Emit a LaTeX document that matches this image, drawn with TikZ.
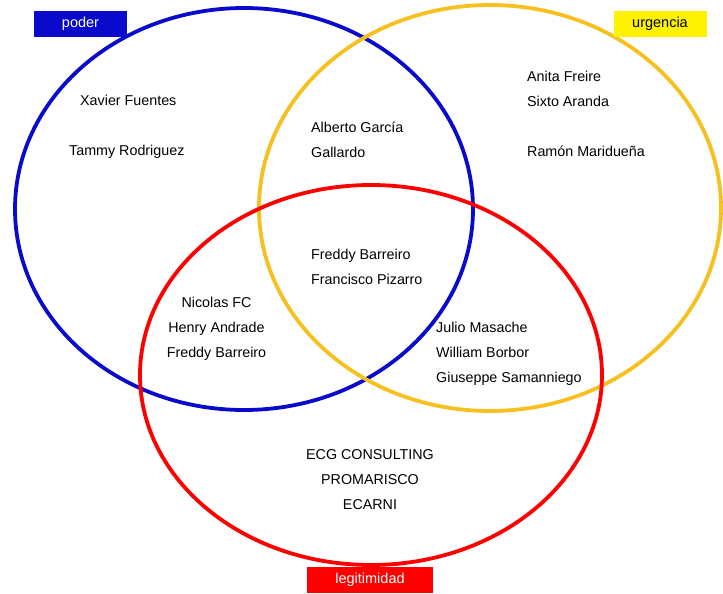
\documentclass[tikz,border=0pt]{standalone}
\usepackage{fontspec}
\setmainfont{Liberation Sans}
\definecolor{podercol}{RGB}{10,10,204}
\definecolor{urgcol}{RGB}{246,192,30}
\definecolor{legcol}{RGB}{255,0,0}

\begin{document}
\begin{tikzpicture}[x=1pt, y=-1pt]
  \tikzstyle{circulo} = [line width=3.8pt]
  \tikzstyle{titulo} = [rectangle, minimum width=93pt, minimum height=26pt, inner sep=0pt,
                        font=\fontsize{14.5}{16}\selectfont]
  \tikzstyle{nombres} = [inner sep=0pt, font=\fontsize{14.3}{25}\selectfont]

\useasboundingbox (0,0) rectangle (723,594);

% conjuntos
\draw[circulo, podercol] (244,209) ellipse [x radius=229pt, y radius=201pt];
\draw[circulo, urgcol] (490,208) ellipse [x radius=231pt, y radius=203pt];
\draw[circulo, legcol] (371,375) ellipse [x radius=231pt, y radius=190pt];

% etiquetas
\node[titulo, fill=podercol, text=white] (poder) at (80.5,24) {poder};
\node[titulo, fill=yellow, text=black] (urgencia) at (660,24) {urgencia};
\node[titulo, fill=legcol, text=white, minimum width=126pt] (legitimidad) at (370,580) {legitimidad};

% nombres
\node[nombres, anchor=west, align=left] (soloP) at (69,127) {\hspace{11pt}Xavier Fuentes\\[25pt]Tammy Rodriguez};
\node[nombres, anchor=west, align=left] (PU) at (311,139.5) {Alberto García\\Gallardo};
\node[nombres, anchor=west, align=left] (soloU) at (527,114) {Anita Freire\\Sixto Aranda\\[25pt]Ramón Maridueña};
\node[nombres, anchor=west, align=left] (PUL) at (311,266.5) {Freddy Barreiro\\Francisco Pizarro};
\node[nombres, align=center] (PL) at (216.5,329) {Nicolas FC\\Henry Andrade\\Freddy Barreiro};
\node[nombres, anchor=west, align=left] (UL) at (436,354) {Julio Masache\\William Borbor\\Giuseppe Samanniego};
\node[nombres, align=center] (soloL) at (370,480) {ECG CONSULTING\\PROMARISCO\\ECARNI};
\end{tikzpicture}
\end{document}
